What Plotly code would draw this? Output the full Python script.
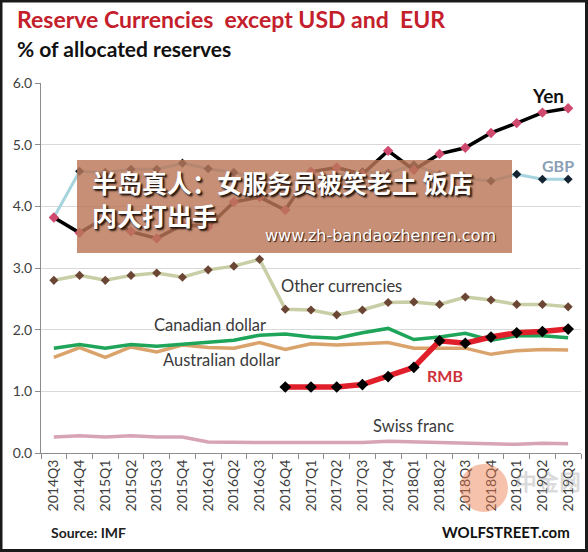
import plotly.graph_objects as go

quarters = ["2014Q3", "2014Q4", "2015Q1", "2015Q2", "2015Q3", "2015Q4", "2016Q1",
            "2016Q2", "2016Q3", "2016Q4", "2017Q1", "2017Q2", "2017Q3", "2017Q4",
            "2018Q1", "2018Q2", "2018Q3", "2018Q4", "2019Q1", "2019Q2", "2019Q3"]

yen = [3.82, 3.57, 3.82, 3.59, 3.48, 3.70, 3.67, 4.07, 4.15, 3.94, 4.56, 4.63,
       4.52, 4.90, 4.59, 4.85, 4.95, 5.19, 5.35, 5.52, 5.59]
gbp = [3.82, 4.57, 4.55, 4.60, 4.60, 4.70, 4.61, 4.55, 4.45, 4.38, 4.45, 4.50,
       4.56, 4.54, 4.67, 4.52, 4.45, 4.41, 4.52, 4.44, 4.44]
other = [2.80, 2.88, 2.80, 2.88, 2.92, 2.85, 2.97, 3.03, 3.14, 2.33, 2.32, 2.24,
         2.32, 2.44, 2.45, 2.41, 2.53, 2.48, 2.41, 2.41, 2.37]
cad = [1.70, 1.76, 1.70, 1.76, 1.73, 1.76, 1.80, 1.83, 1.91, 1.93, 1.88, 1.86,
       1.95, 2.02, 1.84, 1.88, 1.94, 1.83, 1.90, 1.90, 1.87]
aud = [1.55, 1.71, 1.55, 1.72, 1.64, 1.75, 1.71, 1.70, 1.79, 1.68, 1.77, 1.75,
       1.77, 1.79, 1.70, 1.70, 1.70, 1.60, 1.66, 1.68, 1.67]
rmb = [None, None, None, None, None, None, None, None, None, 1.07, 1.07, 1.07,
       1.11, 1.24, 1.39, 1.82, 1.78, 1.88, 1.95, 1.97, 2.01]
chf = [0.26, 0.28, 0.26, 0.28, 0.26, 0.26, 0.18, 0.17, 0.17, 0.17, 0.17, 0.17,
       0.17, 0.19, 0.18, 0.17, 0.16, 0.15, 0.14, 0.16, 0.15]

yticks = [0, 1, 2, 3, 4, 5, 6]

FONT = "Lato"
fig = go.Figure()

fig.add_trace(go.Scatter(x=quarters, y=chf, mode="lines",
                         line=dict(color="#d7a3b6", width=3.5), hoverinfo="skip"))
fig.add_trace(go.Scatter(x=quarters, y=aud, mode="lines",
                         line=dict(color="#dba36c", width=3.5), hoverinfo="skip"))
fig.add_trace(go.Scatter(x=quarters, y=cad, mode="lines",
                         line=dict(color="#1ea55a", width=3.5), hoverinfo="skip"))
fig.add_trace(go.Scatter(x=quarters, y=other, mode="lines+markers",
                         line=dict(color="#c9cea6", width=3.5),
                         marker=dict(symbol="diamond", size=7, color="#6b4634"),
                         hoverinfo="skip"))
fig.add_trace(go.Scatter(x=quarters, y=rmb, mode="lines+markers",
                         line=dict(color="#e01f2b", width=5.5),
                         marker=dict(symbol="diamond", size=9, color="#000000"),
                         hoverinfo="skip"))
fig.add_trace(go.Scatter(x=quarters, y=gbp, mode="lines+markers",
                         line=dict(color="#a6d4de", width=3),
                         marker=dict(symbol="diamond", size=7, color="#142433"),
                         hoverinfo="skip"))
fig.add_trace(go.Scatter(x=quarters, y=yen, mode="lines+markers",
                         line=dict(color="#000000", width=3.5),
                         marker=dict(symbol="diamond", size=8, color="#cf4a6e"),
                         hoverinfo="skip"))

L, R, T, B = 41, 7, 83, 99
W, H = 588, 552
pw, ph = W - L - R, H - T - B


def px(x):
    return (x - L) / pw


def py(y):
    return (H - B - y) / ph


ann = []
ann.append(dict(text="Reserve Currencies  except USD and  EUR", x=px(15), y=py(19),
                xref="paper", yref="paper", xanchor="left", yanchor="middle",
                showarrow=False, font=dict(family=FONT, size=23, color="#c4202c", weight="bold")))
ann.append(dict(text="% of allocated reserves", x=px(15), y=py(48),
                xref="paper", yref="paper", xanchor="left", yanchor="middle",
                showarrow=False, font=dict(family=FONT, size=21, color="#111111", weight="bold")))
ann.append(dict(text="Source: IMF", x=px(49), y=py(532),
                xref="paper", yref="paper", xanchor="left", yanchor="middle",
                showarrow=False, font=dict(family=FONT, size=14, color="#222222", weight="bold")))
ann.append(dict(text="WOLFSTREET.com", x=px(572), y=py(532),
                xref="paper", yref="paper", xanchor="right", yanchor="middle",
                showarrow=False, font=dict(family=FONT, size=15, color="#111111", weight="bold")))

# series labels
labels = [
    ("Yen", 19.2, 5.79, 19, "#111111", "bold"),
    ("GBP", 19.6, 4.67, 16, "#8a9fb4", "bold"),
    ("Other currencies", 11.2, 2.71, 16.5, "#3a3a3a", "normal"),
    ("Canadian dollar", 6.07, 2.07, 16.5, "#3a3a3a", "normal"),
    ("Australian dollar", 6.5, 1.51, 16.5, "#3a3a3a", "normal"),
    ("RMB", 15.2, 1.26, 16, "#d0303a", "bold"),
    ("Swiss franc", 13.97, 0.44, 16.5, "#3a3a3a", "normal"),
]
for t, xi, yv, fs, c, w in labels:
    ann.append(dict(text=t, x=xi, y=yv, xref="x", yref="y", showarrow=False,
                    xanchor="center", yanchor="middle",
                    font=dict(family=FONT, size=fs, color=c, weight=w)))

# overlay watermark text
shadow = "1px 1px 1px #2a1a12, 2px 2px 2px #2a1a12"
ann.append(dict(text="半岛真人：女服务员被笑老土 饭店<br>内大打出手", x=px(90), y=py(198),
                xref="paper", yref="paper", xanchor="left", yanchor="middle",
                align="left", showarrow=False,
                font=dict(family="Noto Sans CJK SC", size=25, color="#ffffff",
                          weight="bold", shadow=shadow)))
ann.append(dict(text="www.zh-bandaozhenren.com", x=px(498), y=py(235),
                xref="paper", yref="paper", xanchor="right", yanchor="middle",
                showarrow=False,
                font=dict(family="DejaVu Sans", size=16, color="#ffffff",
                          shadow="1px 1px 1px #2a1a12")))
ann.append(dict(text="中金网", x=px(548), y=py(480),
                xref="paper", yref="paper", xanchor="center", yanchor="middle",
                showarrow=False,
                font=dict(family="Noto Sans CJK SC", size=22, color="rgba(150,150,150,0.35)",
                          weight="bold")))

shapes = [
    dict(type="rect", xref="paper", yref="paper", x0=px(77), x1=px(512),
         y0=py(253), y1=py(160), fillcolor="rgba(186,118,88,0.82)",
         line=dict(width=0), layer="above"),
    dict(type="circle", xref="paper", yref="paper", x0=px(460), x1=px(508),
         y0=py(512), y1=py(464), fillcolor="rgba(235,120,70,0.45)",
         line=dict(width=0), layer="above"),
    dict(type="rect", xref="paper", yref="paper", x0=px(1), x1=px(586.5),
         y0=py(550.5), y1=py(1), fillcolor="rgba(0,0,0,0)",
         line=dict(color="#1a1a1a", width=3), layer="above"),
]

fig.update_layout(
    width=W, height=H,
    margin=dict(l=L, r=R, t=T, b=B, pad=0),
    paper_bgcolor="#ffffff", plot_bgcolor="#ffffff",
    showlegend=False,
    annotations=ann,
    shapes=shapes,
    font=dict(family=FONT, color="#404040"),
)
fig.update_yaxes(range=[0, 6], tickvals=yticks, tickformat=".1f",
                 showgrid=True, gridcolor="#d9d9d9", gridwidth=1,
                 zeroline=False, showline=True, linecolor="#8c8c8c", linewidth=1,
                 ticks="outside", ticklen=5, tickcolor="#8c8c8c",
                 tickfont=dict(family=FONT, size=14, color="#404040"))
fig.update_xaxes(type="category", range=[-0.5, 20.5], tickangle=-90,
                 showgrid=False, showline=True, linecolor="#8c8c8c", linewidth=1,
                 ticks="outside", tickson="boundaries", ticklen=5, tickcolor="#8c8c8c",
                 tickfont=dict(family=FONT, size=14, color="#404040"))

fig.write_html("out.html", config={"displayModeBar": False},
               post_script="document.body.style.margin='0px';document.body.style.overflow='hidden';")
